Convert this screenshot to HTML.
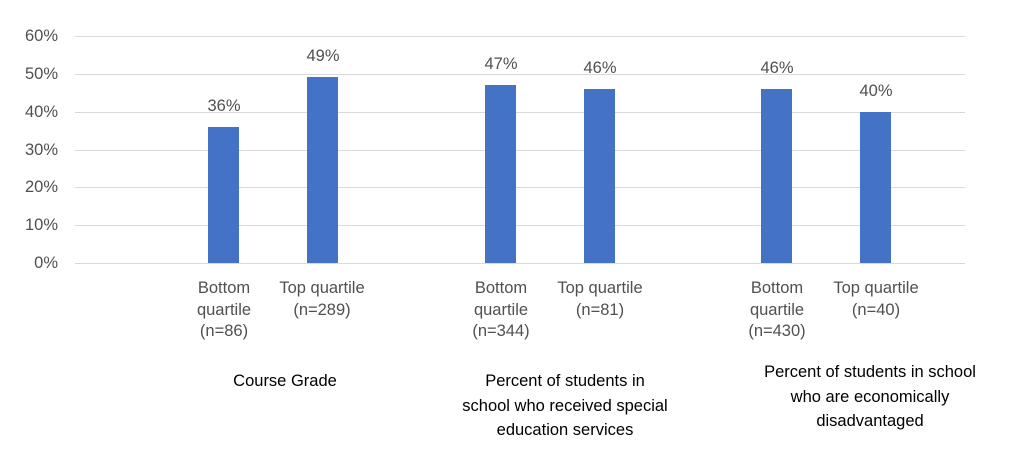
<!DOCTYPE html>
<html><head><meta charset="utf-8"><style>
body{margin:0;background:#fff;width:1024px;height:471px;position:relative;overflow:hidden;font-family:"Liberation Sans",sans-serif;color:#505050;font-size:16.5px}
.g{position:absolute;left:75px;width:890px;height:1px;background:#d9d9d9}
.y{position:absolute;left:0;width:58px;text-align:right;line-height:18px}
.b{position:absolute;width:31px;background:#4472c4;bottom:208px}
.v{position:absolute;width:60px;text-align:center;line-height:18px}
.c{position:absolute;width:140px;text-align:center;line-height:21.5px}
.t{position:absolute;text-align:center;line-height:24.5px;color:#000}
</style></head><body>
<div class="g" style="top:36px"></div><div class="g" style="top:74px"></div><div class="g" style="top:112px"></div><div class="g" style="top:150px"></div><div class="g" style="top:187px"></div><div class="g" style="top:225px"></div><div class="g" style="top:263px"></div>
<div class="y" style="top:27px">60%</div><div class="y" style="top:65px">50%</div><div class="y" style="top:103px">40%</div><div class="y" style="top:141px">30%</div><div class="y" style="top:178px">20%</div><div class="y" style="top:216px">10%</div><div class="y" style="top:254px">0%</div>
<div class="b" style="left:208px;height:136px"></div><div class="b" style="left:307px;height:186px"></div>
<div class="b" style="left:485px;height:178px"></div><div class="b" style="left:584px;height:174px"></div>
<div class="b" style="left:761px;height:174px"></div><div class="b" style="left:860px;height:151px"></div>
<div class="v" style="left:194px;top:97px">36%</div><div class="v" style="left:293px;top:47px">49%</div>
<div class="v" style="left:471px;top:55px">47%</div><div class="v" style="left:570px;top:59px">46%</div>
<div class="v" style="left:747px;top:59px">46%</div><div class="v" style="left:846px;top:82px">40%</div>
<div class="c" style="left:154px;top:278px">Bottom<br>quartile<br>(n=86)</div>
<div class="c" style="left:252px;top:278px">Top quartile<br>(n=289)</div>
<div class="c" style="left:431px;top:278px">Bottom<br>quartile<br>(n=344)</div>
<div class="c" style="left:530px;top:278px">Top quartile<br>(n=81)</div>
<div class="c" style="left:707px;top:278px">Bottom<br>quartile<br>(n=430)</div>
<div class="c" style="left:806px;top:278px">Top quartile<br>(n=40)</div>
<div class="t" style="left:165px;width:240px;top:369px">Course Grade</div>
<div class="t" style="left:430px;width:270px;top:369px">Percent of students in<br>school who received special<br>education services</div>
<div class="t" style="left:725px;width:290px;top:360px">Percent of students in school<br>who are economically<br>disadvantaged</div>
</body></html>
